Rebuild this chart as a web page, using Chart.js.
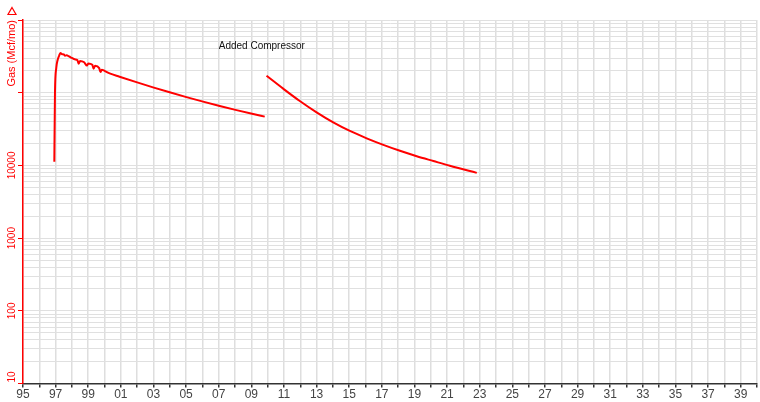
<!DOCTYPE html>
<html>
<head>
<meta charset="utf-8">
<script src="https://cdn.jsdelivr.net/npm/chart.js@4.4.1/dist/chart.umd.min.js"></script>
<style>
  html, body { margin: 0; padding: 0; background: #fff; }
  #wrap { width: 760px; height: 402px; }
</style>
</head>
<body>
<div id="wrap"><canvas id="chart-gas"></canvas></div>
<script>
// ─── DADOS ─────────────────────────────────────────────────────────────────
// produção mensal de gás (Mcf/mo), ano decimal; null = quebra da linha
const years = [
  1996.92, 1996.96, 1997.04, 1997.12, 1997.21, 1997.29, 1997.38, 1997.50,
  1997.58, 1997.67, 1997.83, 1998.00, 1998.17, 1998.33, 1998.42, 1998.50,
  1998.75, 1998.92, 1999.00, 1999.25, 1999.33, 1999.42, 1999.67, 1999.75,
  1999.83, 2000.00, 2000.31, 2000.92, 2001.95, 2002.97, 2003.99, 2005.02,
  2006.04, 2007.06, 2008.09, 2009.11, 2009.82,
  2009.88,
  2009.93, 2010.95, 2011.97, 2013.00, 2014.02, 2015.04, 2016.07, 2017.09,
  2018.11, 2019.14, 2020.16, 2021.17, 2022.82,
];
const gas = [
  11200, 100000, 220000, 280000, 320000, 352000, 340000, 336000,
  322000, 328000, 315000, 301000, 288000, 281000, 250000, 274000,
  262000, 236000, 252000, 242000, 214000, 234000, 218000, 192000,
  207000, 200000, 184500, 166000, 139800, 118600, 101300, 87000,
  75400, 65700, 57600, 50900, 46900,
  null,
  171100, 113800, 76900, 53700, 39100, 29800, 23600, 19200,
  15900, 13400, 11500, 9900, 7900,
];

const xTickYears = [];
for (let yr = 1995; yr <= 2040; yr++) xTickYears.push(yr);

const yDecades     = [10, 100, 1000, 10000, 100000, 1000000];
const yTickLabels  = [10, 100, 1000, 10000];
const axisTitle    = 'Gas (Mcf/mo)';

const annotationText = 'Added Compressor';
const annotationYear = 2007.0;
const annotationGas  = 440000;

// linhas de grade log: 1..9 × 10^n
const yGridValues = [];
for (const d of yDecades.slice(0, -1)) {
  for (let m = 1; m <= 9; m++) yGridValues.push(m * d);
}
yGridValues.push(yDecades[yDecades.length - 1]);

const FONT = '"Liberation Sans", Arial, sans-serif';
const RED  = '#ff0000';

// ─── DECORAÇÃO (rótulos Y, título, anotação, símbolo) ─────────────────────
const decorPlugin = {
  id: 'decor',
  afterDraw(chart) {
    const { ctx, chartArea, scales: { x, y } } = chart;
    const colX = 12;
    ctx.save();

    // rótulos do eixo Y, girados
    ctx.fillStyle = RED;
    ctx.font = `10px ${FONT}`;
    ctx.textAlign = 'center';
    ctx.textBaseline = 'middle';
    for (const v of yTickLabels) {
      const txt  = String(v);
      const half = ctx.measureText(txt).width / 2;
      const py   = Math.min(y.getPixelForValue(v), chartArea.bottom - half - 1);
      ctx.save();
      ctx.translate(colX, py);
      ctx.rotate(-Math.PI / 2);
      ctx.fillText(txt, 0, 0);
      ctx.restore();
    }

    // título do eixo Y, alinhado ao topo
    ctx.font = `11px ${FONT}`;
    ctx.save();
    ctx.translate(colX, chartArea.top);
    ctx.rotate(-Math.PI / 2);
    ctx.textAlign = 'right';
    ctx.fillText(axisTitle, 0, 0);
    ctx.restore();

    // símbolo da série
    ctx.strokeStyle = RED;
    ctx.lineWidth = 1.2;
    ctx.beginPath();
    ctx.moveTo(colX, 7.5);
    ctx.lineTo(colX + 4, 14.5);
    ctx.lineTo(colX - 4, 14.5);
    ctx.closePath();
    ctx.stroke();

    // anotação
    ctx.fillStyle = '#111';
    ctx.font = `10px ${FONT}`;
    ctx.textAlign = 'left';
    ctx.fillText(annotationText, x.getPixelForValue(annotationYear), y.getPixelForValue(annotationGas));

    ctx.restore();
  },
};

// ─── GRÁFICO ──────────────────────────────────────────────────────────────
const points = years.map((yr, i) => ({ x: yr, y: gas[i] }));

new Chart(document.getElementById('chart-gas'), {
  type: 'line',
  data: {
    datasets: [{
      data: points,
      borderColor: RED,
      borderWidth: 2,
      pointRadius: 0,
      cubicInterpolationMode: 'monotone',
      spanGaps: false,
      fill: false,
    }],
  },
  options: {
    responsive: true,
    maintainAspectRatio: false,
    animation: false,
    layout: { padding: { top: 20, right: 3, left: 0, bottom: 0 } },
    plugins: {
      legend:  { display: false },
      tooltip: { enabled: false },
    },
    scales: {
      x: {
        type: 'linear',
        min: 1995,
        max: 2040,
        afterBuildTicks: s => { s.ticks = xTickYears.map(v => ({ value: v })); },
        ticks: {
          autoSkip: false,
          maxRotation: 0,
          minRotation: 0,
          padding: 0,
          color: '#444',
          font: { family: FONT, size: 12 },
          callback: v => (v % 2 ? String(v % 100).padStart(2, '0') : ''),
        },
        grid:   { color: '#dedede', lineWidth: 1.5, tickLength: 4, tickColor: '#333' },
        border: { color: '#333', width: 1.5 },
      },
      y: {
        type: 'logarithmic',
        min: 10,
        max: 1000000,
        afterBuildTicks: s => { s.ticks = yGridValues.map(v => ({ value: v })); },
        afterFit: s => { s.width = 23; },
        ticks: { display: false },
        grid: {
          color: '#e0e0e0',
          lineWidth: 1,
          tickLength: 5,
          tickColor: c => (yDecades.includes(c.tick && c.tick.value) ? RED : 'rgba(0,0,0,0)'),
        },
        border: { color: RED, width: 1.5 },
      },
    },
  },
  plugins: [decorPlugin],
});
</script>
</body>
</html>
